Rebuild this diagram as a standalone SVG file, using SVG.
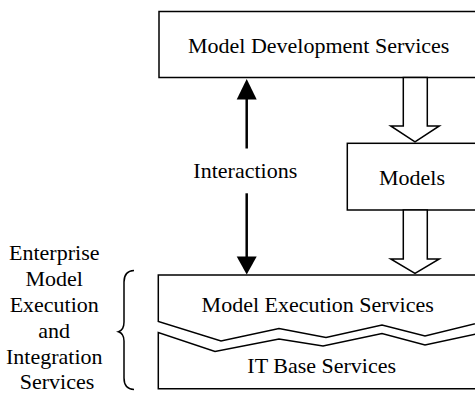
<svg xmlns="http://www.w3.org/2000/svg" width="475" height="394" viewBox="0 0 475 394">
<defs>
<style>
text{font-family:"Liberation Serif","Times New Roman","DejaVu Serif",serif;font-size:22px;fill:#000;}
.box{fill:#fff;stroke:#000;stroke-width:1.5;}
.hollow{fill:#fff;stroke:#000;stroke-width:1.5;stroke-linejoin:miter;}
.line{fill:none;stroke:#000;stroke-width:2.5;}
.head{fill:#000;stroke:none;}
.brace{fill:none;stroke:#000;stroke-width:1.5;}
</style>
</defs>
<rect width="475" height="394" fill="#fff"/>
<g id="mds">
<rect class="box" x="159" y="11.5" width="330" height="66"/>
<text x="318.7" y="53.3" text-anchor="middle">Model Development Services</text>
</g>
<g id="models">
<rect class="box" x="347.3" y="143.3" width="140" height="66.7"/>
<text x="412" y="185" text-anchor="middle">Models</text>
</g>
<g id="mes">
<path class="box" d="M490 275 L158.3 275 L158.3 321.5 L221 341 L279 328.5 L326 337.5 L382 325 L425 336 L490 320"/>
<text x="317.7" y="311.5" text-anchor="middle">Model Execution Services</text>
</g>
<g id="itbs">
<path class="box" d="M490 331 L425 345 L382 333.5 L323 346 L279 339 L215 351.5 L158.3 332.5 L158.3 388.8 L490 388.8"/>
<text x="321.7" y="373.3" text-anchor="middle">IT Base Services</text>
</g>
<g id="emeis">
<text text-anchor="middle" x="57">
<tspan x="57" y="259.5">Enterprise</tspan>
<tspan x="57" y="285.5">Model</tspan>
<tspan x="57" y="311.5">Execution</tspan>
<tspan x="57" y="337.5">and</tspan>
<tspan x="57" y="363.5">Integration</tspan>
<tspan x="57" y="389.3">Services</tspan>
</text>
<path class="brace" d="M134 270.5 Q124 271 124 282 L124 322 Q124 330 118.5 331.7 Q124 333.5 124 341 L124 378 Q124 389 134 389.5"/>
</g>
<g id="connectors">
<path class="line" d="M246.7 99 L246.7 148.5"/>
<polygon class="head" points="246.7,79 236.7,99.5 256.7,99.5"/>
<text x="245.3" y="178.3" text-anchor="middle">Interactions</text>
<path class="line" d="M246.7 193.3 L246.7 257"/>
<polygon class="head" points="246.7,274.5 236.7,256.5 256.7,256.5"/>
<polygon class="hollow" points="403.3,77.5 427.3,77.5 427.3,126 439.3,126 415,141.8 390.7,126 403.3,126"/>
<polygon class="hollow" points="403.3,210 427.3,210 427.3,259 439.3,259 415,273.5 390.7,259 403.3,259"/>
</g>
</svg>
